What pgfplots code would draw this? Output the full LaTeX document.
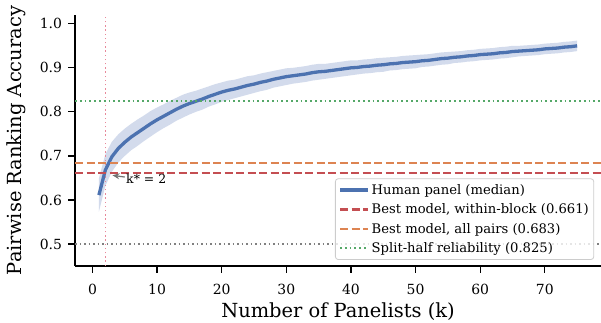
\documentclass[border=0pt]{standalone}
\usepackage{pgfplots}
\pgfplotsset{compat=1.18}
\usepackage{pgfplotstable}
\usepgfplotslibrary{fillbetween}
\usepackage{fontspec}
\setmainfont{DejaVu Serif}
\usetikzlibrary{calc,arrows.meta}
\definecolor{cblue}{HTML}{4C72B0}
\definecolor{cred}{HTML}{C44E52}
\definecolor{corange}{HTML}{DD8452}
\definecolor{cgreen}{HTML}{55A868}
\definecolor{cpink}{HTML}{E8899A}
\definecolor{cband}{HTML}{D3DBEC}

\pgfplotstableread{
k med lo hi
1 0.611 0.573 0.649
2 0.668 0.632 0.704
3 0.698 0.664 0.732
4 0.717 0.685 0.749
5 0.731 0.700 0.762
6 0.743 0.713 0.773
7 0.753 0.723 0.783
8 0.763 0.734 0.792
9 0.773 0.744 0.802
10 0.782 0.754 0.810
11 0.790 0.763 0.817
12 0.798 0.771 0.825
13 0.806 0.780 0.832
14 0.813 0.787 0.839
15 0.819 0.794 0.844
16 0.824 0.800 0.848
17 0.829 0.805 0.853
18 0.835 0.812 0.858
19 0.840 0.817 0.863
20 0.845 0.823 0.867
21 0.849 0.827 0.871
22 0.852 0.831 0.873
23 0.856 0.835 0.877
24 0.860 0.839 0.881
25 0.863 0.843 0.883
26 0.867 0.847 0.887
27 0.870 0.850 0.890
28 0.874 0.855 0.893
29 0.877 0.858 0.896
30 0.880 0.861 0.899
31 0.882 0.864 0.900
32 0.884 0.866 0.902
33 0.886 0.868 0.904
34 0.889 0.871 0.907
35 0.891 0.873 0.909
36 0.892 0.875 0.909
37 0.894 0.877 0.911
38 0.896 0.879 0.913
39 0.898 0.881 0.915
40 0.900 0.883 0.917
41 0.901 0.885 0.917
42 0.903 0.887 0.919
43 0.904 0.888 0.920
44 0.906 0.890 0.922
45 0.907 0.891 0.923
46 0.909 0.894 0.924
47 0.910 0.895 0.925
48 0.912 0.897 0.927
49 0.913 0.898 0.928
50 0.914 0.899 0.929
51 0.916 0.902 0.930
52 0.917 0.903 0.931
53 0.919 0.905 0.933
54 0.921 0.907 0.935
55 0.922 0.908 0.936
56 0.924 0.911 0.937
57 0.925 0.912 0.938
58 0.927 0.914 0.940
59 0.928 0.915 0.941
60 0.930 0.917 0.943
61 0.931 0.918 0.944
62 0.932 0.919 0.945
63 0.934 0.921 0.947
64 0.935 0.922 0.948
65 0.937 0.924 0.950
66 0.938 0.926 0.950
67 0.939 0.927 0.951
68 0.940 0.928 0.952
69 0.941 0.929 0.953
70 0.943 0.931 0.955
71 0.944 0.932 0.956
72 0.945 0.933 0.957
73 0.947 0.935 0.959
74 0.948 0.936 0.960
75 0.950 0.938 0.962
}\panel

\begin{document}
\begin{tikzpicture}
\begin{axis}[
  scale only axis,
  width=526bp, height=251bp,
  xmin=-2.7, xmax=78.7,
  ymin=0.45, ymax=1.02,
  axis x line*=bottom, axis y line*=left,
  axis line style={line width=1.2pt, -},
  xtick={0,10,...,70},
  ytick={0.5,0.6,0.7,0.8,0.9,1.0},
  /pgf/number format/assume math mode=true,
  tick align=outside,
  major tick length=6.5bp,
  tick style={line width=1.2pt, black},
  ticklabel style={font=\fontsize{14}{16}\selectfont},
  xticklabel style={yshift=-8bp},
  yticklabel style={xshift=-3bp, /pgf/number format/.cd, fixed, fixed zerofill, precision=1},
  label style={font=\fontsize{19.5}{22}\selectfont},
  xlabel={Number of Panelists (k)},
  ylabel={Pairwise Ranking Accuracy},
  xlabel style={at={(rel axis cs:0.5,0)}, anchor=center, yshift=-46bp},
  ylabel style={at={(rel axis cs:0,0.5)}, anchor=center, yshift=59bp},
  legend image code/.code={\draw[#1] (0bp,0bp) -- (28bp,0bp);},
  legend style={at={(rel axis cs:0.987,0.024)}, anchor=south east,
    font=\fontsize{13.2}{15}\selectfont, draw=black!20, line width=0.8pt, rounded corners=3pt,
    fill=white, fill opacity=0.8, text opacity=1, row sep=4bp,
    inner xsep=3bp, inner ysep=3.5bp},
  legend cell align=left,
  clip=false,
]
\addplot[name path=hi, draw=none, forget plot] table[x=k, y=hi] {\panel};
\addplot[name path=lo, draw=none, forget plot] table[x=k, y=lo] {\panel};
\addplot[cband, forget plot] fill between[of=hi and lo];
\addplot[cpink, dash pattern=on 1.4bp off 2.8bp, line width=1.3pt, forget plot] coordinates {(2,0.45) (2,1.02)};
\addplot[black!50, dash pattern=on 1.5bp off 3bp, line width=1.6pt, forget plot] coordinates {(-2.7,0.5) (78.7,0.5)};
\addplot[cblue, line width=3.3bp] table[x=k, y=med] {\panel};
\addlegendentry{Human panel (median)}
\addplot[cred, dash pattern=on 8bp off 3.5bp, line width=2.3bp] coordinates {(-2.7,0.661) (78.7,0.661)};
\addlegendentry{Best model, within-block (0.661)}
\addplot[corange, dash pattern=on 8bp off 3.5bp, line width=2bp] coordinates {(-2.7,0.683) (78.7,0.683)};
\addlegendentry{Best model, all pairs (0.683)}
\addplot[cgreen, dash pattern=on 1.8bp off 3bp, line width=2bp] coordinates {(-2.7,0.825) (78.7,0.825)};
\addlegendentry{Split-half reliability (0.825)}
\draw[-{Stealth[length=7bp,width=6bp]}, black!55, line width=1.2pt] (axis cs:5.0,0.652) -- (axis cs:3.1,0.656);
\node[anchor=base west, font=\fontsize{12.5}{14}\selectfont, inner sep=0pt] at (axis cs:5.2,0.637) {k* = 2};
\coordinate (sw) at (rel axis cs:0,0);
\coordinate (ne) at (rel axis cs:1,1);
\end{axis}
\pgfresetboundingbox
\path ($(sw)+(-75bp,-57bp)$) rectangle ($(ne)+(0,15bp)$);
\end{tikzpicture}
\end{document}
